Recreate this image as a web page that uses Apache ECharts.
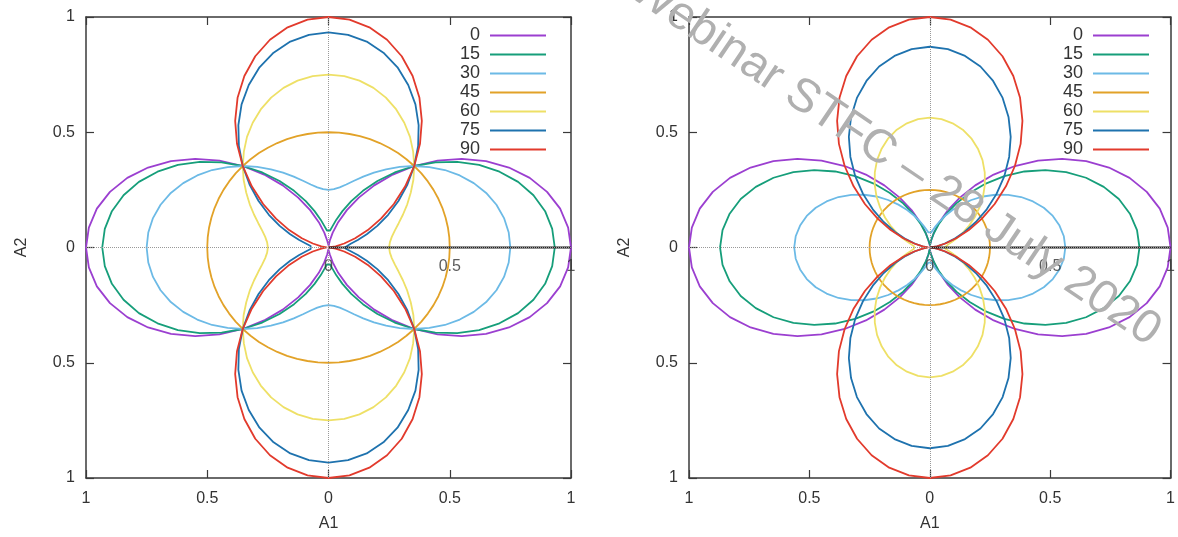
<!DOCTYPE html>
<html><head><meta charset="utf-8">
<script src="https://cdn.jsdelivr.net/npm/echarts@6/dist/echarts.min.js"></script>
<style>html,body{margin:0;padding:0;background:#fff}#c{width:1178px;height:537px}</style>
</head><body><div id="c"></div>
<script>
// ---- data ----
const angleLabels = ['0', '15', '30', '45', '60', '75', '90'];
// polar angle (deg) of each radius sample in the first quadrant
const phiDeg = [0, 5, 10, 15, 20, 25, 30, 35, 40, 45, 50, 55, 60, 65, 70, 75, 80, 85, 90];
const tickValues = [-1, -0.5, 0, 0.5, 1];
const tickLabels = ['1', '0.5', '0', '0.5', '1'];
const rAxisValues = [0, 0.5, 1];
const rAxisLabels = ['0', '0.5', '1'];
const watermarkText = 'Webinar STFC \u2013 28 July 2020';

// left panel radii, one value per phiDeg
const left_0  = [1.000, 0.992, 0.970, 0.933, 0.883, 0.821, 0.750, 0.671, 0.587, 0.500, 0.413, 0.329, 0.250, 0.179, 0.117, 0.067, 0.030, 0.008, 0.000];
const left_15 = [0.933, 0.926, 0.907, 0.875, 0.832, 0.778, 0.717, 0.648, 0.575, 0.500, 0.425, 0.352, 0.284, 0.222, 0.168, 0.125, 0.093, 0.074, 0.067];
const left_30 = [0.750, 0.746, 0.735, 0.717, 0.692, 0.661, 0.625, 0.586, 0.543, 0.500, 0.457, 0.414, 0.375, 0.339, 0.308, 0.283, 0.265, 0.254, 0.250];
const left_45 = [0.500, 0.500, 0.500, 0.500, 0.500, 0.500, 0.500, 0.500, 0.500, 0.500, 0.500, 0.500, 0.500, 0.500, 0.500, 0.500, 0.500, 0.500, 0.500];
const left_60 = [0.250, 0.254, 0.265, 0.283, 0.308, 0.339, 0.375, 0.414, 0.457, 0.500, 0.543, 0.586, 0.625, 0.661, 0.692, 0.717, 0.735, 0.746, 0.750];
const left_75 = [0.067, 0.074, 0.093, 0.125, 0.168, 0.222, 0.284, 0.352, 0.425, 0.500, 0.575, 0.648, 0.717, 0.778, 0.832, 0.875, 0.907, 0.926, 0.933];
const left_90 = [0.000, 0.008, 0.030, 0.067, 0.117, 0.179, 0.250, 0.329, 0.413, 0.500, 0.587, 0.671, 0.750, 0.821, 0.883, 0.933, 0.970, 0.992, 1.000];

// right panel radii
const right_0  = [1.000, 0.992, 0.970, 0.933, 0.883, 0.821, 0.750, 0.671, 0.587, 0.500, 0.413, 0.329, 0.250, 0.179, 0.117, 0.067, 0.030, 0.008, 0.000];
const right_15 = [0.871, 0.864, 0.844, 0.813, 0.769, 0.716, 0.654, 0.586, 0.513, 0.438, 0.362, 0.289, 0.221, 0.159, 0.106, 0.063, 0.031, 0.011, 0.005];
const right_30 = [0.563, 0.559, 0.547, 0.529, 0.504, 0.473, 0.438, 0.398, 0.356, 0.313, 0.269, 0.227, 0.188, 0.152, 0.121, 0.096, 0.078, 0.066, 0.063];
const right_45 = [0.250, 0.250, 0.250, 0.250, 0.250, 0.250, 0.250, 0.250, 0.250, 0.250, 0.250, 0.250, 0.250, 0.250, 0.250, 0.250, 0.250, 0.250, 0.250];
const right_60 = [0.063, 0.066, 0.078, 0.096, 0.121, 0.152, 0.188, 0.227, 0.269, 0.313, 0.356, 0.398, 0.438, 0.473, 0.504, 0.529, 0.547, 0.559, 0.563];
const right_75 = [0.005, 0.011, 0.031, 0.063, 0.106, 0.159, 0.221, 0.289, 0.362, 0.438, 0.513, 0.586, 0.654, 0.716, 0.769, 0.813, 0.844, 0.864, 0.871];
const right_90 = [0.000, 0.008, 0.030, 0.067, 0.117, 0.179, 0.250, 0.329, 0.413, 0.500, 0.587, 0.671, 0.750, 0.821, 0.883, 0.933, 0.970, 0.992, 1.000];

const colors = ['#9b3fd0', '#169e7a', '#6cbae6', '#e2a228', '#eee066', '#1e72ae', '#e23a2c'];

const leftCurves = [left_0, left_15, left_30, left_45, left_60, left_75, left_90];
const rightCurves = [right_0, right_15, right_30, right_45, right_60, right_75, right_90];

// closed curve from first-quadrant radii, mirrored into the other quadrants
function curve(r) {
  const pts = [];
  for (let d = 0; d <= 360; d += 5) {
    let m = d % 180;
    if (m > 90) m = 180 - m;
    const rr = r[phiDeg.indexOf(m)];
    const a = d * Math.PI / 180;
    pts.push([rr * Math.cos(a), rr * Math.sin(a)]);
  }
  return pts;
}

const FONT = 'Liberation Sans';
const TXT = '#333';
const AX = '#3a3a3a';
const grids = [
  { left: 86, top: 17, width: 485, height: 464 },
  { left: 689, top: 17, width: 484, height: 464 }
];
const xAxes = [], yAxes = [], series = [];
function lab(v) { const i = tickValues.findIndex(t => Math.abs(t - v) < 1e-9); return i >= 0 ? tickLabels[i] : ''; }

grids.forEach((g, p) => {
  const base = {
    type: 'value', gridIndex: p, min: -1, max: 1, interval: 0.5,
    splitLine: { show: false },
    axisLine: { onZero: false, lineStyle: { color: AX, width: 1.5 } },
    axisTick: { inside: true, length: 8, lineStyle: { color: AX, width: 1.2 } }
  };
  xAxes.push(Object.assign({}, base, {
    position: 'bottom',
    axisLabel: { formatter: lab, margin: 13, fontSize: 16, color: TXT, fontFamily: FONT },
    name: 'A1', nameLocation: 'middle', nameGap: 38,
    nameTextStyle: { fontSize: 16, color: TXT, fontFamily: FONT }
  }));
  xAxes.push(Object.assign({}, base, { position: 'top', axisLabel: { show: false } }));
  yAxes.push(Object.assign({}, base, {
    position: 'left',
    axisLabel: { formatter: lab, margin: 11, fontSize: 16, color: TXT, fontFamily: FONT },
    name: 'A2', nameLocation: 'middle', nameGap: 56, nameRotate: 90,
    nameTextStyle: { fontSize: 16, color: TXT, fontFamily: FONT }
  }));
  yAxes.push(Object.assign({}, base, { position: 'right', axisLabel: { show: false } }));

  // zero axes (dotted)
  series.push({
    type: 'line', xAxisIndex: 2 * p, yAxisIndex: 2 * p, data: [], z: 1, silent: true,
    markLine: {
      silent: true, symbol: 'none', label: { show: false }, animation: false,
      lineStyle: { type: 'dotted', color: '#999', width: 1 },
      data: [{ xAxis: 0 }, { yAxis: 0 }]
    }
  });
  const curves = p === 0 ? leftCurves : rightCurves;
  curves.forEach((r, i) => {
    series.push({
      type: 'line', name: angleLabels[i], xAxisIndex: 2 * p, yAxisIndex: 2 * p,
      data: curve(r), smooth: false, symbol: 'none', showSymbol: false, z: 2,
      color: colors[i], lineStyle: { color: colors[i], width: 1.8, join: 'round' }, animation: false
    });
  });
  // radial axis line with labels
  series.push({
    type: 'line', xAxisIndex: 2 * p, yAxisIndex: 2 * p, z: 3, symbol: 'none', silent: true,
    data: [[rAxisValues[0], 0], [rAxisValues[rAxisValues.length - 1], 0]],
    lineStyle: { color: '#222', width: 2 }, animation: false
  });
  series.push({
    type: 'scatter', xAxisIndex: 2 * p, yAxisIndex: 2 * p, z: 4, silent: true,
    data: rAxisValues.map(v => [v, 0]), symbolSize: 1, itemStyle: { color: 'rgba(0,0,0,0)' },
    label: {
      show: true, position: 'bottom', distance: 11, fontSize: 16, color: TXT, fontFamily: FONT,
      formatter: q => rAxisLabels[q.dataIndex]
    }, animation: false
  });
});

const legendBase = {
  orient: 'vertical', align: 'right', itemGap: 0, itemWidth: 56, itemHeight: 2, icon: 'rect',
  data: angleLabels, selectedMode: false, padding: 0,
  textStyle: { fontSize: 18, lineHeight: 19, color: TXT, fontFamily: FONT, padding: [0, 5, 0, 0] }
};

const chart = echarts.init(document.getElementById('c'), null, { renderer: 'canvas' });
chart.setOption({
  animation: false,
  backgroundColor: '#fff',
  grid: grids,
  xAxis: xAxes,
  yAxis: yAxes,
  legend: [
    Object.assign({}, legendBase, { right: 632, top: 26 }),
    Object.assign({}, legendBase, { right: 29, top: 26 })
  ],
  series: series,
  graphic: [{
    type: 'text', x: 895, y: 160, rotation: -34 * Math.PI / 180, z: 100, silent: true,
    style: {
      text: watermarkText, fontSize: 47, fontFamily: FONT, fill: '#b0b0b0',
      align: 'center', verticalAlign: 'middle'
    }
  }]
});
</script>
</body></html>
